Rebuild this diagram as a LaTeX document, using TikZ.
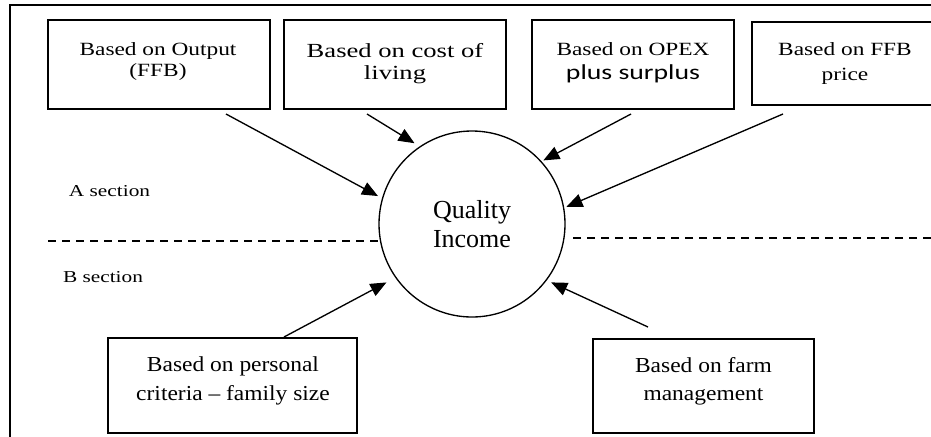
\documentclass[tikz,border=0pt]{standalone}
\usepackage{fontspec}
\setmainfont{Liberation Serif}
\newfontfamily\boxfont[FakeStretch=1.25]{Liberation Serif}
\newfontfamily\costfont[FakeStretch=1.33]{Liberation Serif}
\newfontfamily\lowfont[FakeStretch=1.1]{Liberation Serif}
\newfontfamily\secfont[FakeStretch=1.28]{Liberation Serif}
\newfontfamily\plusfont[FakeStretch=1.3]{Carlito}
\usetikzlibrary{arrows.meta}

\begin{document}
\begin{tikzpicture}[x=0.75pt, y=-0.75pt,
  >={Triangle[length=12pt, width=10pt]},
  box/.style={draw, line width=1pt, inner sep=0pt},
  boxtext/.style={align=center, inner sep=0pt},
  feed/.style={->, line width=1pt},
  split/.style={dash pattern=on 6pt off 4.5pt, line width=1pt}]

  \newcommand\PX{0.75pt}

  \useasboundingbox (0,0) rectangle (931,436);

  %% frame
  \coordinate (ftop) at (940,5);
  \coordinate (fcorner) at (10,5);
  \coordinate (fbot) at (10,445);
  \draw[line width=1.1pt] (ftop) -- (fcorner) -- (fbot);

  %% top boxes
  \node[box, minimum width=222*\PX, minimum height=89*\PX] (output) at (159,64.5) {};
  \node[box, minimum width=222*\PX, minimum height=89*\PX] (cost) at (395,64.5) {};
  \node[box, minimum width=202*\PX, minimum height=89*\PX] (opex) at (633,64.5) {};
  \node[box, minimum width=186*\PX, minimum height=83*\PX] (price) at (845,63.5) {};

  \node[boxtext, font=\boxfont\fontsize{14}{15.75}\selectfont] (outputtxt) at (158,61.2)
    {Based on Output\\(FFB)};
  \node[boxtext, font=\costfont\fontsize{15}{16.5}\selectfont] (costtxt) at (395,63.3)
    {Based on cost of\\living};
  \node[boxtext, font=\boxfont\fontsize{14}{18}\selectfont] (opextxt) at (633,62.8)
    {Based on OPEX\\{\plusfont\fontsize{16}{18}\selectfont plus surplus}};
  \node[boxtext, font=\boxfont\fontsize{14}{18.75}\selectfont] (pricetxt) at (845,63.2)
    {Based on FFB\\price};

  %% bottom boxes
  \node[box, minimum width=249*\PX, minimum height=95*\PX] (personal) at (232.5,385.5) {};
  \node[box, minimum width=221*\PX, minimum height=94*\PX] (farm) at (703.5,386) {};

  \node[boxtext, font=\lowfont\fontsize{16}{21.75}\selectfont] (personaltxt) at (233,380.5)
    {Based on personal\\criteria – family size};
  \node[boxtext, font=\lowfont\fontsize{16}{21}\selectfont] (farmtxt) at (703.5,381)
    {Based on farm\\management};

  %% centre
  \node[draw, circle, line width=1pt, minimum size=186*\PX, inner sep=0pt, align=center,
    font=\fontsize{19.5}{22}\selectfont] (qi) at (472,224) {Quality\\Income};

  %% sections
  \node[anchor=base, inner sep=0pt, font=\secfont\fontsize{12.5}{15}\selectfont] (asec) at (109.5,196) {A section};
  \node[anchor=base, inner sep=0pt, font=\secfont\fontsize{12.5}{15}\selectfont] (bsec) at (103,282) {B section};

  \coordinate (dl) at (48,241);
  \coordinate (dr) at (931,238);
  \draw[split] (dl) -- (qi.190 |- dl);
  \draw[split, shorten >=3.75pt] (dr) -- (qi.351 |- dr);

  %% arrows into the circle
  \coordinate (a1) at (226,114);
  \coordinate (a2) at (367,114);
  \coordinate (a3) at (631,114);
  \coordinate (a4) at (783,114);
  \coordinate (b1) at (284,337);
  \coordinate (b2) at (648,327);

  \draw[feed, shorten >=3.4pt] (a1) -- (qi.164);
  \draw[feed, shorten >=4.5pt] (a2) -- (qi.124);
  \draw[feed, shorten >=1.5pt] (a3) -- (qi.42);
  \draw[feed, shorten >=1.8pt] (a4) -- (qi.10);
  \draw[feed, shorten >=7.5pt] (b1) -- (qi.215);
  \draw[feed, shorten >=3.6pt] (b2) -- (qi.323);

\end{tikzpicture}
\end{document}
